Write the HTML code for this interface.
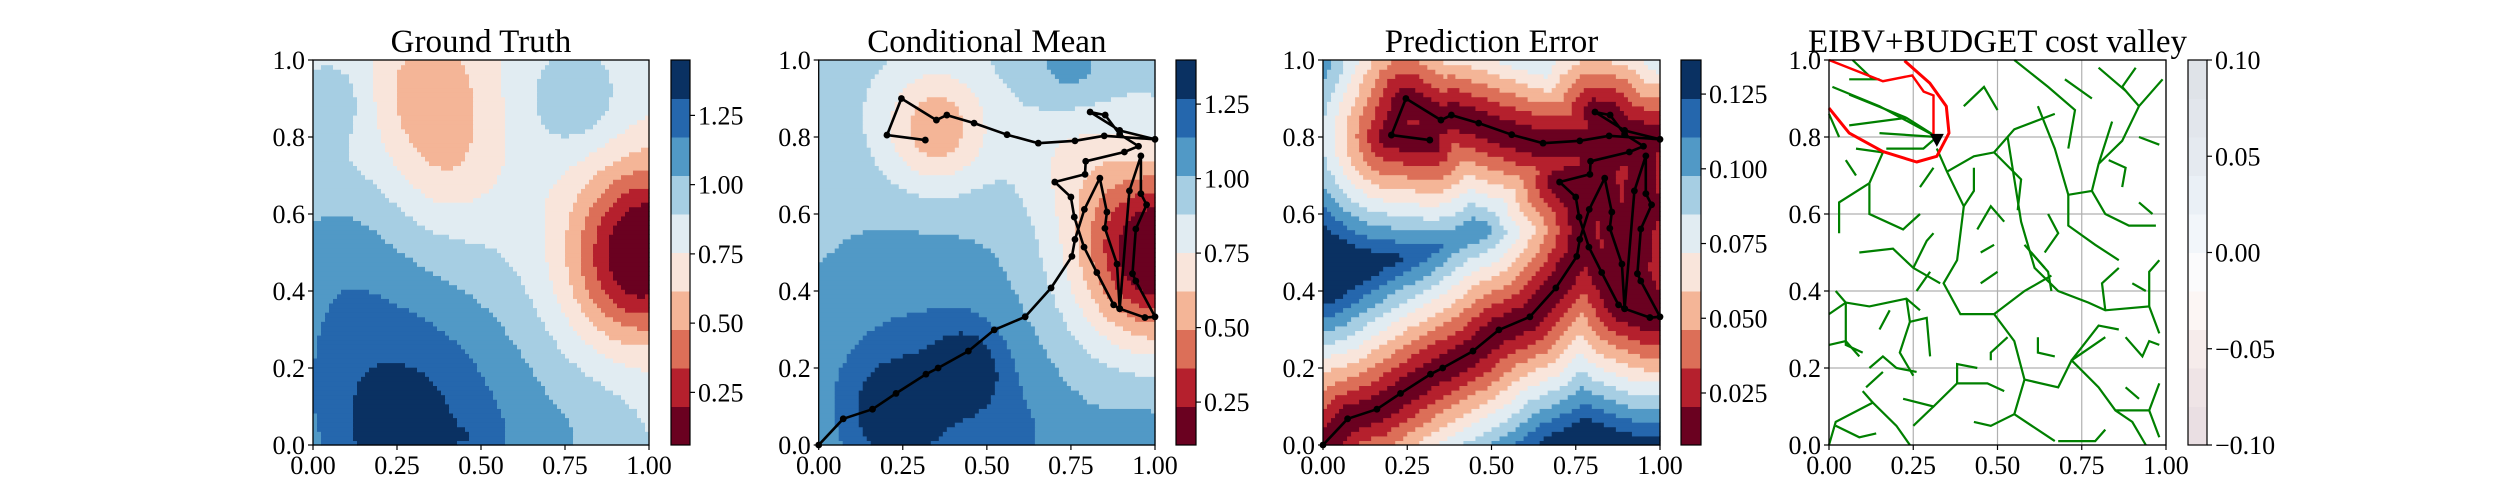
<!DOCTYPE html>
<html><head><meta charset="utf-8"><style>
html,body{margin:0;padding:0;background:#fff;width:2500px;height:500px;overflow:hidden}
text{font-family:"Liberation Serif","Times New Roman",serif}
</style></head><body>
<svg id="fig" width="2500" height="500" xmlns="http://www.w3.org/2000/svg"></svg>
<script>
// ---------- data ----------
const bandColors=['#6a0120','#b5202d','#dc6f58','#f4b597','#f9e5db','#e1ecf2','#a6cee3','#5199c6','#2567ad','#0a3162'];
const xTicks=[0,0.25,0.5,0.75,1.0];
const xTickLabels=['0.00','0.25','0.50','0.75','1.00'];
const yTicks=[0,0.2,0.4,0.6,0.8,1.0];
const yTickLabels=['0.0','0.2','0.4','0.6','0.8','1.0'];
const titles=['Ground Truth','Conditional Mean','Prediction Error','EIBV+BUDGET cost valley'];
// colorbars
const cb1Range=[0.06,1.45]; const cb1Ticks=[0.25,0.5,0.75,1.0,1.25]; const cb1Labels=['0.25','0.50','0.75','1.00','1.25'];
const cb2Range=[0.106,1.398]; const cb2Ticks=[0.25,0.5,0.75,1.0,1.25]; const cb2Labels=['0.25','0.50','0.75','1.00','1.25'];
const cb3Range=[0.0076,0.1364]; const cb3Ticks=[0.025,0.05,0.075,0.1,0.125]; const cb3Labels=['0.025','0.050','0.075','0.100','0.125'];
const cb4Range=[-0.1,0.1]; const cb4Ticks=[-0.1,-0.05,0,0.05,0.1]; const cb4Labels=['\u22120.10','\u22120.05','0.00','0.05','0.10'];
const cb4Colors=['#eadfe3','#efe4e6','#f6eceb','#fcf6f4','#fbfbfc','#f2f6fa','#eaf0f6','#e5eaf0','#e2e6ec','#dfe3e8'];
// ground truth field (band units)
const gtBase=5.3;
const gtBumpX=[0.3,0.05,0.85,1.0,0.35,0.4,0.06,0.78,0.05,0.25,0.9,0.5];
const gtBumpY=[0.05,0.3,0.0,0.52,0.92,0.72,0.9,0.9,0.55,0.03,0.38,0.02];
const gtBumpAmp=[3.6,0.8,0.8,-5.5,-2.0,-1.2,1.3,1.5,1.0,0.9,-1.0,0.6];
const gtBumpSigma=[0.3,0.2,0.15,0.15,0.12,0.11,0.08,0.1,0.15,0.1,0.12,0.05];
// conditional mean field
const cmBase=6.3;
const cmBumpX=[0.23,0.44,0.3,0.6,1.0,1.0,0.35,0.75,0.75];
const cmBumpY=[0.08,0.2,0.2,0.0,0.0,0.5,0.82,0.75,0.98];
const cmBumpAmp=[2.4,2.2,1.7,1.0,1.0,-6.8,-3.2,-1.2,1.2];
const cmBumpSigma=[0.11,0.08,0.3,0.12,0.15,0.16,0.11,0.12,0.08];
// prediction error scale
const errScale=0.34;
// AUV path
const pathX=[0,0.073,0.16,0.23,0.319,0.355,0.445,0.522,0.614,0.691,0.753,0.762,0.79,0.836,0.857,0.851,0.887,0.895,0.924,0.958,0.958,0.975,0.943,0.933,0.943,1.0,0.97,0.895,0.877,0.827,0.789,0.76,0.75,0.702,0.792,0.794,0.909,0.951,0.895,0.852,0.807,0.895,1.0,0.849,0.762,0.653,0.56,0.462,0.381,0.35,0.246,0.203,0.317];
const pathY=[0,0.068,0.093,0.134,0.184,0.2,0.244,0.299,0.333,0.408,0.49,0.534,0.612,0.693,0.605,0.563,0.47,0.354,0.66,0.751,0.653,0.624,0.561,0.445,0.426,0.333,0.331,0.354,0.364,0.448,0.514,0.592,0.644,0.683,0.703,0.737,0.761,0.776,0.807,0.857,0.865,0.817,0.794,0.803,0.79,0.784,0.806,0.836,0.857,0.844,0.9,0.805,0.792];
// cost valley
const treeBranches=[
[0.32,0.77,0.35,0.71,0.40,0.62,0.38,0.48,0.34,0.42,0.39,0.34,0.49,0.34,0.55,0.27,0.58,0.17,0.55,0.08,0.67,0.01],
[0.40,0.62,0.43,0.66,0.43,0.72],
[0.35,0.71,0.43,0.75,0.49,0.76,0.55,0.82,0.67,0.86],
[0.49,0.76,0.57,0.69,0.56,0.61],
[0.53,0.80,0.57,0.58,0.61,0.46,0.68,0.40,0.77,0.37,0.82,0.35,0.95,0.36,0.98,0.29],
[0.49,0.34,0.58,0.40,0.66,0.44],
[0.62,0.88,0.67,0.77,0.71,0.65,0.78,0.66,0.80,0.73,0.84,0.84],
[0.71,0.65,0.71,0.57,0.79,0.52,0.86,0.48],
[0.78,0.66,0.82,0.60,0.89,0.57,0.97,0.57],
[0.80,0.73,0.87,0.79,0.92,0.88,0.99,0.95],
[0.92,0.88,0.87,0.93,0.91,0.98],
[0.55,1.0,0.65,0.93,0.73,0.87,0.71,0.77],
[0.80,0.98,0.88,0.92],
[0.01,0.93,0.15,0.88,0.32,0.80],
[0.06,0.91,0.23,0.85,0.32,0.80],
[0.06,0.83,0.23,0.85],
[0.15,0.81,0.32,0.80],
[0.17,0.77,0.28,0.77,0.32,0.80],
[0.06,0.95,0.15,0.95],
[0.07,1.0,0.13,0.95],
[0.02,0.40,0.05,0.37,0.05,0.26,0.10,0.24],
[0.05,0.37,0.12,0.36,0.23,0.38,0.27,0.35],
[0.0,0.34,0.05,0.37],
[0.23,0.38,0.24,0.32,0.21,0.24,0.25,0.18],
[0.24,0.32,0.29,0.33,0.30,0.23],
[0.09,0.50,0.19,0.51,0.25,0.46,0.33,0.42],
[0.25,0.46,0.29,0.53,0.31,0.55],
[0.12,0.68,0.12,0.60,0.22,0.56,0.27,0.60],
[0.12,0.68,0.03,0.63,0.03,0.55],
[0.12,0.68,0.16,0.76,0.08,0.77],
[0.0,0.26,0.05,0.27,0.09,0.23],
[0.12,0.20,0.16,0.23,0.20,0.20,0.26,0.19],
[0.11,0.15,0.16,0.19],
[0.0,0.0,0.02,0.06,0.13,0.11,0.20,0.05,0.24,0.0],
[0.02,0.05,0.09,0.02,0.14,0.03],
[0.10,0.14,0.13,0.11],
[0.22,0.12,0.31,0.10,0.38,0.16,0.47,0.16,0.52,0.14],
[0.31,0.10,0.25,0.05],
[0.38,0.16,0.38,0.21,0.44,0.20],
[0.55,0.08,0.48,0.05,0.43,0.06],
[0.68,0.01,0.79,0.01,0.82,0.04],
[0.58,0.17,0.68,0.15,0.72,0.22,0.82,0.28],
[0.72,0.22,0.80,0.15,0.85,0.09,0.90,0.06,0.94,0.0],
[0.85,0.09,0.95,0.09,0.98,0.16],
[0.95,0.09,0.98,0.02],
[0.72,0.22,0.80,0.31,0.86,0.30],
[0.82,0.35,0.81,0.42,0.86,0.46],
[0.95,0.36,0.95,0.45,0.98,0.48],
[0.88,0.28,0.93,0.23,0.95,0.27,0.98,0.26],
[0.60,0.50,0.65,0.45,0.66,0.40],
[0.58,0.52,0.64,0.46],
[0.49,0.52,0.45,0.50],
[0.53,0.28,0.48,0.24,0.48,0.22],
[0.62,0.28,0.62,0.24,0.67,0.23],
[0.87,0.67,0.88,0.72,0.83,0.74],
[0.92,0.63,0.96,0.60],
[0.05,0.74,0.08,0.70],
[0.0,0.86,0.03,0.80],
[0.44,0.56,0.48,0.62,0.52,0.58],
[0.27,0.67,0.31,0.72],
[0.92,0.80,0.98,0.78],
[0.15,0.30,0.18,0.35],
[0.40,0.88,0.46,0.93,0.50,0.87],
[0.70,0.95,0.78,0.90],
[0.88,0.15,0.92,0.12],
[0.30,0.45,0.26,0.40],
[0.65,0.60,0.68,0.55,0.64,0.50],
[0.45,0.42,0.50,0.45],
[0.90,0.42,0.94,0.40]
];
const valleyX=[0.0,0.06,0.16,0.26,0.32,0.356,0.348,0.299,0.224];
const valleyY=[0.875,0.81,0.762,0.735,0.75,0.81,0.88,0.94,0.998];
const redPathX=[0.0,0.16,0.247,0.281,0.31,0.31];
const redPathY=[1.0,0.945,0.96,0.918,0.908,0.806];
const currentLoc=[0.32,0.79];

// ---------- layout ----------
const TOP=60,BOT=445;
const FONT='"Liberation Serif", "Times New Roman", serif';
const panels=[{l:313,r:649,cl:671,cr:690},{l:818.7,r:1155,cl:1176,cr:1196},{l:1323,r:1660,cl:1681,cr:1701},{l:1829,r:2166,cl:2188,cr:2207}];
const NS='http://www.w3.org/2000/svg';
const fig=document.getElementById('fig');
function mk(tag,attrs,parent){const e=document.createElementNS(NS,tag);for(const k in attrs)e.setAttribute(k,attrs[k]);(parent||fig).appendChild(e);return e;}
function sx(p,v){return p.l+v*(p.r-p.l);}
function sy(v){return BOT-v*(BOT-TOP);}
function txt(attrs,parent,s){const t=mk('text',attrs,parent);t.style.fontFamily=FONT;t.textContent=s;return t;}

function bumpField(base,X,Y,A,S){return function(x,y){let v=base;for(let i=0;i<X.length;i++){const d2=(x-X[i])**2+(y-Y[i])**2;v+=A[i]*Math.exp(-d2/(2*S[i]*S[i]));}return v;};}
function segDist(px,py,ax,ay,bx,by){const dx=bx-ax,dy=by-ay;const L=dx*dx+dy*dy;let t=L?((px-ax)*dx+(py-ay)*dy)/L:0;t=Math.max(0,Math.min(1,t));return Math.hypot(px-ax-t*dx,py-ay-t*dy);}
function errField(x,y){let d=1e9;for(let i=0;i<pathX.length-1;i++)d=Math.min(d,segDist(x,y,pathX[i],pathY[i],pathX[i+1],pathY[i+1]));return 10*d/errScale;}

function drawField(p,f,name){
  const g=mk('g',{});
  
  
  const N=84;const cw=(p.r-p.l)/N,ch=(BOT-TOP)/N;
  for(let j=0;j<N;j++){
    const y=(j+0.5)/N;let start=0,prev=null;
    for(let i=0;i<=N;i++){
      let b=null;
      if(i<N){b=Math.floor(f((i+0.5)/N,y));b=Math.max(0,Math.min(9,b));}
      if(i===N||b!==prev){
        if(prev!==null){
          const r=mk('rect',{x:(sx(p,start/N)).toFixed(2),y:(sy((j+1)/N)).toFixed(2),width:((i-start)*cw+0.6).toFixed(2),height:(ch+0.6).toFixed(2),fill:bandColors[prev]},g);
          
          
        }
        start=i;prev=b;
      }
    }
  }
}

function drawGrid(p){
  xTicks.forEach(v=>{const l=mk('line',{x1:sx(p,v),x2:sx(p,v),y1:TOP,y2:BOT,stroke:'#b0b0b0','stroke-width':1.2});});
  yTicks.forEach(v=>{const l=mk('line',{x1:p.l,x2:p.r,y1:sy(v),y2:sy(v),stroke:'#b0b0b0','stroke-width':1.2});});
}
function drawFrame(p,idx){
  const fr=mk('rect',{x:p.l,y:TOP,width:p.r-p.l,height:BOT-TOP,fill:'none',stroke:'#000','stroke-width':1.3});
  
  xTicks.forEach((v,i)=>{
    const x=sx(p,v);
    const t=mk('line',{x1:x,x2:x,y1:BOT,y2:BOT+5,stroke:'#000','stroke-width':1.2});
    
    const tx=txt({x:x,y:474,'font-size':26,'text-anchor':'middle'},null,xTickLabels[i]);
    
  });
  yTicks.forEach((v,i)=>{
    const y=sy(v);
    const t=mk('line',{x1:p.l-5,x2:p.l,y1:y,y2:y,stroke:'#000','stroke-width':1.2});
    
    const tx=txt({x:p.l-8,y:y+9,'font-size':26,'text-anchor':'end'},null,yTickLabels[i]);
    
  });
  const tt=txt({x:(p.l+p.r)/2,y:52,'font-size':33,'text-anchor':'middle'},null,titles[idx]);
  
}
function drawColorbar(p,range,ticks,labels,colors,idx){
  const g=mk('g',{});
  
  
  const n=colors.length,h=(BOT-TOP)/n;
  colors.forEach((c,i)=>{const r=mk('rect',{x:p.cl,y:BOT-(i+1)*h,width:p.cr-p.cl,height:h+0.5,fill:c},g);});
  mk('rect',{x:p.cl,y:TOP,width:p.cr-p.cl,height:BOT-TOP,fill:'none',stroke:'#000','stroke-width':1.2},g);
  ticks.forEach((v,i)=>{
    const y=BOT-(v-range[0])/(range[1]-range[0])*(BOT-TOP);
    const t=mk('line',{x1:p.cr,x2:p.cr+5,y1:y,y2:y,stroke:'#000','stroke-width':1.2},g);
    
    const tx=txt({x:p.cr+8,y:y+9,'font-size':26},g,labels[i]);
    
  });
}
function drawPath(p,name){
  const g=mk('g',{});
  
  
  const pts=pathX.map((x,i)=>sx(p,x).toFixed(1)+','+sy(pathY[i]).toFixed(1)).join(' ');
  const pl=mk('polyline',{points:pts,fill:'none',stroke:'#000','stroke-width':2.6,'stroke-linejoin':'round'},g);
  
  pathX.forEach((x,i)=>{const c=mk('circle',{cx:sx(p,x),cy:sy(pathY[i]),r:3.4,fill:'#000'},g);});
}

// panel 1
drawField(panels[0],bumpField(gtBase,gtBumpX,gtBumpY,gtBumpAmp,gtBumpSigma),'ground-truth-contour');
drawFrame(panels[0],0);
drawColorbar(panels[0],cb1Range,cb1Ticks,cb1Labels,bandColors,0);
// panel 2
drawField(panels[1],bumpField(cmBase,cmBumpX,cmBumpY,cmBumpAmp,cmBumpSigma),'conditional-mean-contour');
drawPath(panels[1],'auv-path-mean');
drawFrame(panels[1],1);
drawColorbar(panels[1],cb2Range,cb2Ticks,cb2Labels,bandColors,1);
// panel 3
drawField(panels[2],errField,'prediction-error-contour');
drawPath(panels[2],'auv-path-error');
drawFrame(panels[2],2);
drawColorbar(panels[2],cb3Range,cb3Ticks,cb3Labels,bandColors,2);
// panel 4
(function(){
  const p=panels[3];
  drawGrid(p);
  const g=mk('g',{});
  
  
  treeBranches.forEach(b=>{
    const pts=[];for(let i=0;i<b.length;i+=2)pts.push(sx(p,b[i]).toFixed(1)+','+sy(b[i+1]).toFixed(1));
    const pl=mk('polyline',{points:pts.join(' '),fill:'none',stroke:'#008000','stroke-width':2.2},g);
    
  });
  const vp=valleyX.map((x,i)=>sx(p,x).toFixed(1)+','+sy(valleyY[i]).toFixed(1)).join(' ');
  const v=mk('polyline',{points:vp,fill:'none',stroke:'#ff0000','stroke-width':3,'stroke-linejoin':'round'});
  
  const rp=redPathX.map((x,i)=>sx(p,x).toFixed(1)+','+sy(redPathY[i]).toFixed(1)).join(' ');
  const r=mk('polyline',{points:rp,fill:'none',stroke:'#ff0000','stroke-width':2.4});
  
  const cx=sx(p,currentLoc[0]),cy=sy(currentLoc[1]);
  const tri=mk('polygon',{points:`${cx-7},${cy-7} ${cx+7},${cy-7} ${cx},${cy+6}`,fill:'#000'});
  
  drawFrame(p,3);
  drawColorbar(p,cb4Range,cb4Ticks,cb4Labels,cb4Colors,3);
})();
</script>
</body></html>
